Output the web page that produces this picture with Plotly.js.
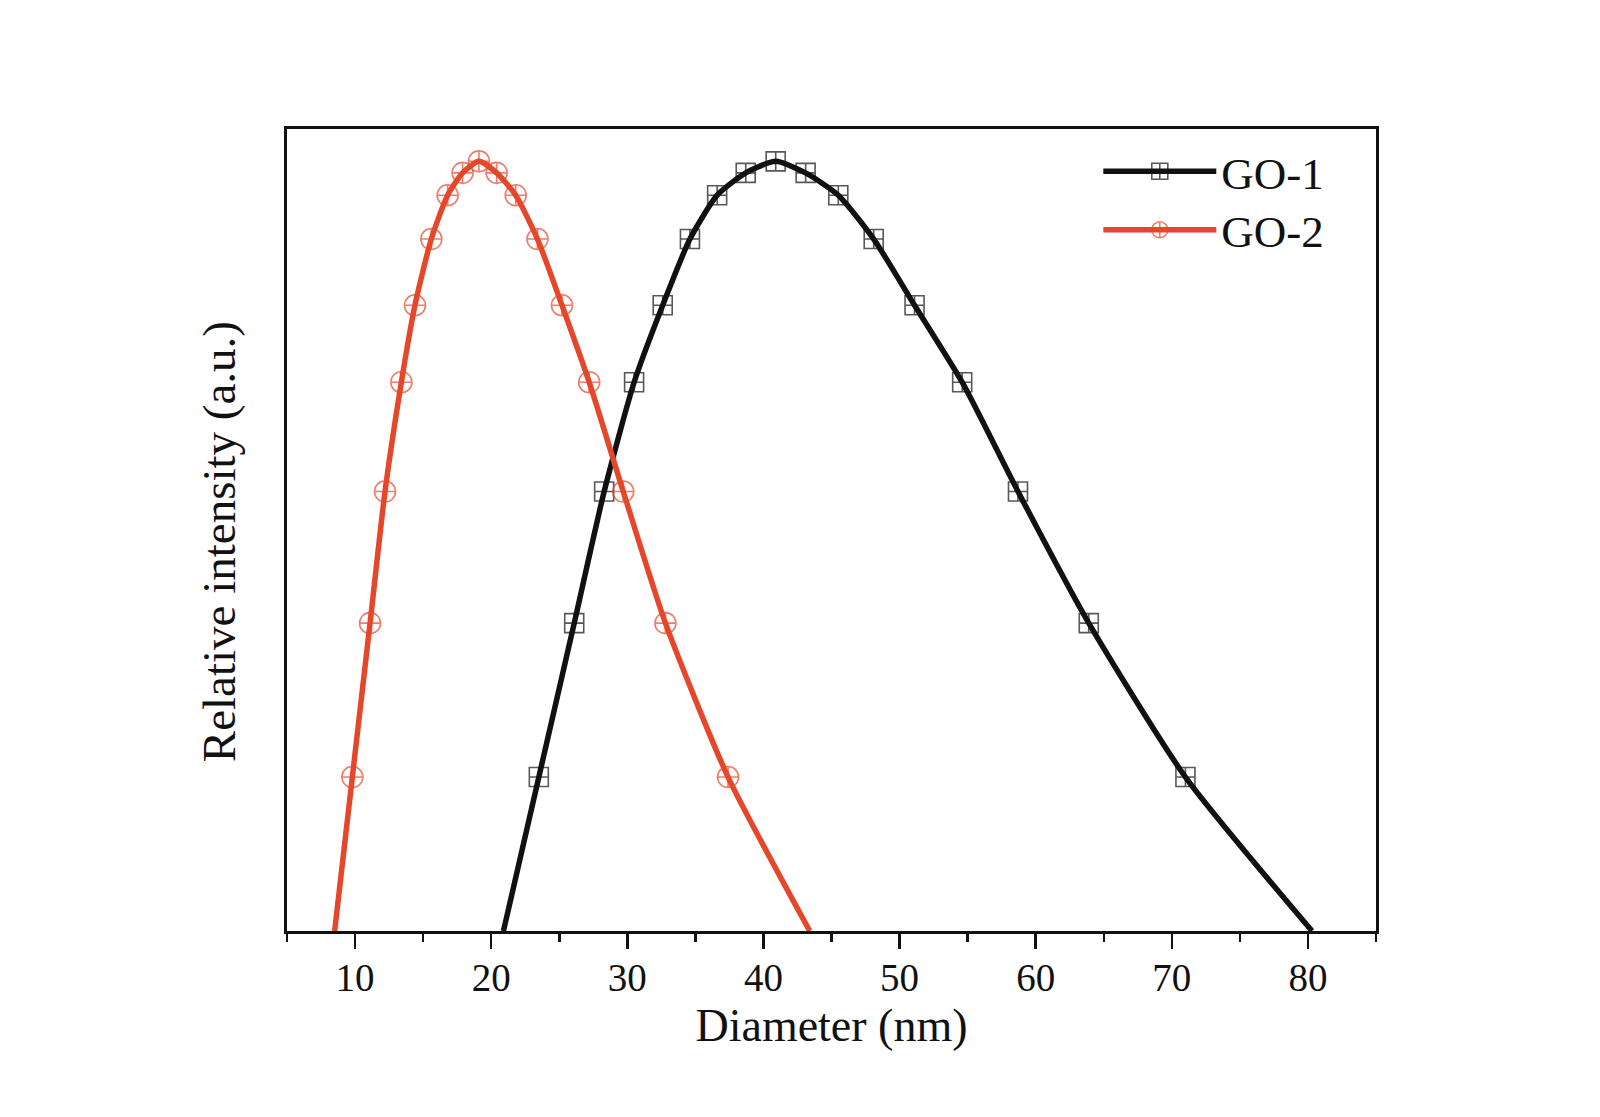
<!DOCTYPE html>
<html>
<head>
<meta charset="utf-8">
<script src="https://cdn.plot.ly/plotly-3.0.1.min.js"></script>
<style>
  body { margin: 0; background: #fff; }
  #chart { width: 1600px; height: 1117px; }
</style>
</head>
<body>
<div id="chart"></div>
<script>
// diameter (nm) and relative intensity
const go1Diameter = [20.9, 23.5, 26.1, 28.3, 30.5, 32.6, 34.6, 36.6, 38.7, 40.9, 43.1, 45.5, 48.1, 51.1, 54.6, 58.7, 63.9, 71.0, 80.3];
const go1Intensity = [0, 0.200, 0.400, 0.571, 0.713, 0.813, 0.899, 0.956, 0.985, 1.0, 0.985, 0.956, 0.899, 0.813, 0.713, 0.571, 0.400, 0.200, 0];

const go2Diameter = [8.5, 9.8, 11.1, 12.2, 13.4, 14.4, 15.6, 16.8, 17.9, 19.1, 20.4, 21.8, 23.4, 25.2, 27.2, 29.7, 32.8, 37.4, 43.4];
const go2Intensity = [0, 0.200, 0.400, 0.571, 0.713, 0.813, 0.899, 0.956, 0.985, 1.0, 0.985, 0.956, 0.899, 0.813, 0.713, 0.571, 0.400, 0.200, 0];

const xTicks = [10, 20, 30, 40, 50, 60, 70, 80];

const black = '#111111';
const red = '#E5472B';
const serif = '"Liberation Serif", "Times New Roman", serif';

// no symbol on the end points that sit on the axis
function markerSizes(n, size) {
    const sizes = [];
    for (let i = 0; i < n; i++) {
        sizes.push(i === 0 || i === n - 1 ? 0 : size);
    }
    return sizes;
}

const go1 = {
    x: go1Diameter,
    y: go1Intensity,
    name: 'GO-1',
    type: 'scatter',
    mode: 'lines+markers',
    legend: 'legend',
    line: { color: black, width: 5.5, shape: 'spline', smoothing: 0.6 },
    marker: {
        symbol: 'square-cross-open',
        size: markerSizes(go1Diameter.length, 19),
        color: black,
        line: { color: black, width: 1.6 }
    }
};

const go2 = {
    x: go2Diameter,
    y: go2Intensity,
    name: 'GO-2',
    type: 'scatter',
    mode: 'lines+markers',
    legend: 'legend2',
    line: { color: red, width: 5.5, shape: 'spline', smoothing: 0.6 },
    marker: {
        symbol: 'circle-cross-open',
        size: markerSizes(go2Diameter.length, 21),
        color: red,
        line: { color: red, width: 1.6 }
    }
};

const legendStyle = {
    xanchor: 'left',
    yanchor: 'middle',
    bgcolor: 'rgba(0,0,0,0)',
    font: { family: serif, size: 45, color: black },
    itemwidth: 113
};

const layout = {
    width: 1600,
    height: 1117,
    paper_bgcolor: '#ffffff',
    plot_bgcolor: '#ffffff',
    margin: { l: 287, r: 224, t: 129, b: 186 },
    font: { family: serif, color: black },
    showlegend: true,
    legend: Object.assign({ x: 0.745, y: 0.947 }, legendStyle),
    legend2: Object.assign({ x: 0.745, y: 0.874 }, legendStyle),
    xaxis: {
        range: [5, 85],
        tickvals: xTicks,
        ticktext: xTicks.map(String),
        ticks: 'outside',
        ticklen: 15,
        tickwidth: 2.5,
        tickcolor: black,
        ticklabelstandoff: -5,
        minor: { dtick: 5, tick0: 5, ticks: 'outside', ticklen: 8, tickwidth: 2.5, tickcolor: black },
        showline: true,
        linewidth: 3,
        linecolor: black,
        mirror: true,
        showgrid: false,
        zeroline: false,
        tickfont: { family: serif, size: 39, color: black },
        title: { text: 'Diameter (nm)', font: { family: serif, size: 46, color: black }, standoff: 12 }
    },
    yaxis: {
        range: [0, 1.042],
        showticklabels: false,
        ticks: '',
        showline: true,
        linewidth: 3,
        linecolor: black,
        mirror: true,
        showgrid: false,
        zeroline: false
    },
    annotations: [{
        text: 'Relative intensity (a.u.)',
        textangle: -90,
        xref: 'paper',
        yref: 'paper',
        x: -0.0625,
        y: 0.486,
        xanchor: 'center',
        yanchor: 'middle',
        showarrow: false,
        font: { family: serif, size: 47, color: black }
    }]
};

Plotly.newPlot('chart', [go1, go2], layout, { displayModeBar: false, staticPlot: true });
</script>
</body>
</html>
